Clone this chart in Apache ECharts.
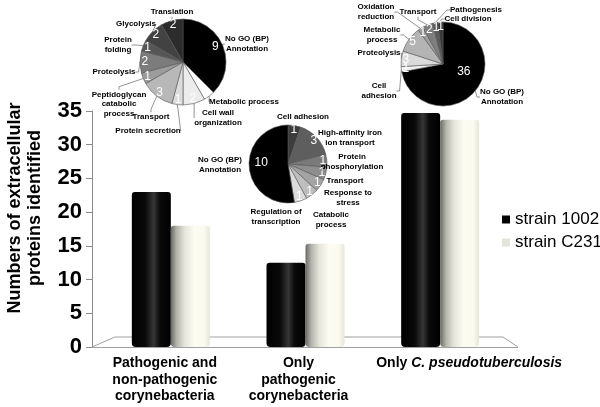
<!DOCTYPE html>
<html><head><meta charset="utf-8">
<script src="https://cdn.jsdelivr.net/npm/echarts@6/dist/echarts.min.js"></script>
<style>html,body{margin:0;padding:0;background:#fff}#c{width:600px;height:407px}</style>
</head><body><div id="c"></div>
<script>
// ---- data ----
const categories = ['Pathogenic and\nnon-pathogenic\ncorynebacteria', 'Only\npathogenic\ncorynebacteria', 'Only C. pseudotuberculosis'];
const seriesNames = ['strain 1002', 'strain C231'];
const strain1002 = [23, 12.5, 34.7];
const strainC231 = [18, 15.3, 33.7];
const yMin = 0, yMax = 35, yStep = 5;

const pie1Names = ['No GO (BP)\nAnnotation', 'Metabolic process', 'Cell wall\norganization', 'Protein secretion', 'Transport', 'Peptidoglycan\ncatabolic\nprocess', 'Proteolysis', 'Protein\nfolding', 'Glycolysis', 'Translation'];
const pie1Values = [9, 1, 2, 1, 3, 1, 2, 1, 2, 2];
const pie2Names = ['Cell adhesion', 'High-affinity iron\nion transport', 'Protein\nphosphorylation', 'Transport', 'Response to\nstress', 'Catabolic\nprocess', 'Regulation of\ntranscription', 'No GO (BP)\nAnnotation'];
const pie2Values = [1, 3, 1, 1, 1, 1, 1, 10];
const pie3Names = ['No GO (BP)\nAnnotation', 'Cell\nadhesion', 'Proteolysis', 'Metabolic\nprocess', 'Oxidation\nreduction', 'Transport', 'Pathogenesis', 'Cell division'];
const pie3Values = [36, 1, 3, 5, 1, 2, 1, 1];

// ---- styles / positions ----
const FF = '"Liberation Sans", Arial, sans-serif';
const pie1Colors = ['#000000', '#ffffff', '#ececec', '#dcdcdc', '#b8b8b8', '#9c9c9c', '#7c7c7c', '#565656', '#424242', '#2c2c2c'];
const pie2Colors = ['#3c3c3c', '#5e5e5e', '#7a7a7a', '#8e8e8e', '#a4a4a4', '#bebebe', '#dcdcdc', '#000000'];
const pie3Colors = ['#000000', '#f2f2f2', '#dadada', '#b4b4b4', '#a0a0a0', '#7e7e7e', '#5a5a5a', '#3a3a3a'];
const pie1Pos = [[247,44],[244,102],[218,118],[148,131],[151,117],[119,104],[114,72],[118,45],[136,24],[172,12]];
const pie2Pos = [[303,117],[350,138],[352,162],[345,181],[348,198],[331,220],[276,217],[220,165]];
const pie3Pos = [[502,97],[379,91],[379,53],[382,35],[376,12],[418,12],[476,10],[468,19]];
const pie1ValOff = {0: [-3, -1]};
const pie2ValOff = {7: [8, -4]};
const pie3ValOff = {0: [-8, -16]};

function pieSeries(names, values, colors, center, r, pos, lines, valOff) {
  const data = names.map((n, i) => ({name: n, value: values[i], itemStyle: {color: colors[i]}}));
  return [
    {
      type: 'pie', center: center, radius: r, startAngle: 90, clockwise: true,
      data: data, silent: true, animation: false, avoidLabelOverlap: false,
      itemStyle: {borderColor: '#555', borderWidth: 0.6},
      label: {show: true, position: 'outside', formatter: '{b}', fontSize: 8, fontWeight: 'bold',
        lineHeight: 9.5, color: '#000', fontFamily: FF},
      labelLine: {show: lines, length: 3, length2: 3, lineStyle: {color: '#777', width: 0.8}},
      labelLayout: p => ({x: pos[p.dataIndex][0], y: pos[p.dataIndex][1], align: 'center', verticalAlign: 'middle'}),
      emphasis: {disabled: true}
    },
    {
      type: 'pie', center: center, radius: [r * 0.64, r], startAngle: 90, clockwise: true,
      data: names.map((n, i) => ({name: n, value: values[i]})), silent: true, animation: false,
      avoidLabelOverlap: false,
      itemStyle: {color: 'rgba(0,0,0,0)', borderWidth: 0},
      label: {show: true, position: 'inside', formatter: '{c}', fontSize: 12, color: '#fff', fontFamily: FF},
      labelLine: {show: false},
      labelLayout: p => (valOff[p.dataIndex] ? {dx: valOff[p.dataIndex][0], dy: valOff[p.dataIndex][1]} : {}),
      emphasis: {disabled: true}
    }
  ];
}

const gradBlack = new echarts.graphic.LinearGradient(0, 0, 1, 0, [
  {offset: 0, color: '#000'}, {offset: 0.35, color: '#0a0a0a'}, {offset: 0.56, color: '#363636'},
  {offset: 0.72, color: '#0a0a0a'}, {offset: 1, color: '#000'}]);
const gradLight = new echarts.graphic.LinearGradient(0, 0, 1, 0, [
  {offset: 0, color: '#6a6a64'}, {offset: 0.15, color: '#b4b4ac'}, {offset: 0.35, color: '#e4e4da'},
  {offset: 0.6, color: '#fcfcf2'}, {offset: 0.85, color: '#fafaee'}, {offset: 1, color: '#e6e6dc'}]);

const chart = echarts.init(document.getElementById('c'), null, {renderer: 'canvas'});
const labelPads = [[0, 12, 0, 0], [0, 14, 0, 0], [0, 0, 0, 58]];

chart.setOption({
  animation: false,
  backgroundColor: '#fff',
  textStyle: {fontFamily: FF},
  grid: [
    {left: 92, top: 111, bottom: 60, width: 10},
    {left: 103.5, right: 92.5, top: 111, bottom: 60}
  ],
  xAxis: [
    {gridIndex: 0, type: 'value', show: false},
    {gridIndex: 1, type: 'category',
      data: categories.map((c, i) => ({value: c, textStyle: {padding: labelPads[i]}})),
      axisLine: {show: false}, axisTick: {show: false},
      axisLabel: {interval: 0, margin: 8, fontSize: 14, fontWeight: 'bold', color: '#000', lineHeight: 16.5, fontFamily: FF,
        formatter: v => v.indexOf('C. ') >= 0 ? v.replace('C. pseudotuberculosis', '{i|C. pseudotuberculosis}') : v,
        rich: {i: {fontStyle: 'italic', fontWeight: 'bold', fontSize: 14, color: '#000', fontFamily: FF}}}
    }
  ],
  yAxis: [
    {gridIndex: 0, type: 'value', min: yMin, max: yMax, interval: yStep,
      axisLine: {show: true, lineStyle: {color: '#8c8c8c'}},
      axisTick: {show: true, length: 6, lineStyle: {color: '#8c8c8c'}},
      splitLine: {show: false},
      axisLabel: {fontSize: 22, fontWeight: 'bold', color: '#000', margin: 10, fontFamily: FF},
      name: 'Numbers of extracellular\nproteins identified', nameLocation: 'middle', nameRotate: 90, nameGap: 47,
      nameTextStyle: {fontSize: 18, fontWeight: 'bold', color: '#000', lineHeight: 20, padding: [0, 0, 0, 42], fontFamily: FF}
    },
    {gridIndex: 1, type: 'value', min: yMin, max: yMax, interval: yStep, show: false}
  ],
  legend: {
    orient: 'vertical', left: 497, top: 206, itemWidth: 8, itemHeight: 8, itemGap: 6, icon: 'rect',
    textStyle: {fontSize: 17, color: '#000', fontFamily: FF},
    data: [{name: seriesNames[0], itemStyle: {color: '#000'}}, {name: seriesNames[1], itemStyle: {color: '#e4e4da'}}]
  },
  graphic: [
    {type: 'polyline', z: -10, silent: true, shape: {points: [[92, 347], [115, 337], [503, 337], [518, 347]]},
      style: {stroke: '#a0a0a0', lineWidth: 1, fill: null}},
    {type: 'line', z: -10, silent: true, shape: {x1: 92, y1: 347.5, x2: 518, y2: 347.5},
      style: {stroke: '#a0a0a0', lineWidth: 1}}
  ],
  series: [
    {type: 'bar', name: seriesNames[0], xAxisIndex: 1, yAxisIndex: 1, data: strain1002, barWidth: 39, barGap: '0%',
      itemStyle: {color: gradBlack, borderRadius: [3, 3, 4, 4]}, silent: true},
    {type: 'bar', name: seriesNames[1], xAxisIndex: 1, yAxisIndex: 1, data: strainC231, barWidth: 39, barGap: '0%',
      itemStyle: {color: gradLight, borderRadius: [3, 3, 4, 4]}, silent: true},
    ...pieSeries(pie1Names, pie1Values, pie1Colors, [183, 62], 43, pie1Pos, true, pie1ValOff),
    ...pieSeries(pie2Names, pie2Values, pie2Colors, [288, 164], 39, pie2Pos, false, pie2ValOff),
    ...pieSeries(pie3Names, pie3Values, pie3Colors, [443, 64], 42, pie3Pos, true, pie3ValOff)
  ]
});
</script></body></html>
